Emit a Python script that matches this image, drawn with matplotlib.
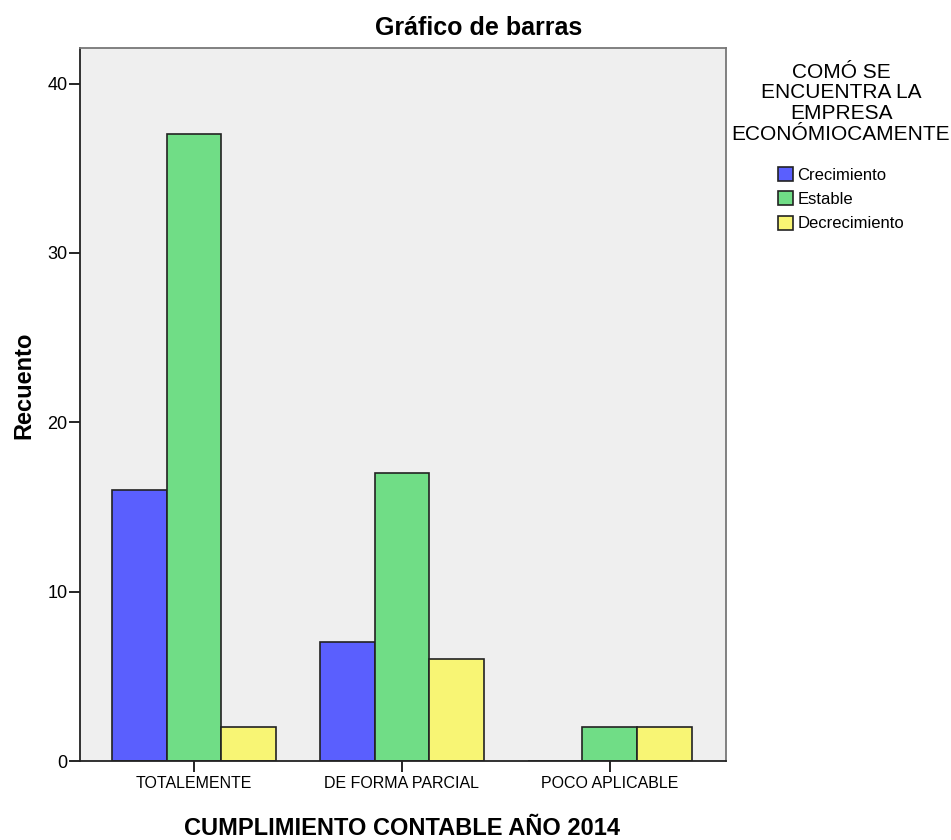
import matplotlib.pyplot as plt
import numpy as np
from matplotlib.patches import Patch

plt.rcParams['font.family'] = ['Liberation Sans', 'DejaVu Sans']

categorias = ['TOTALEMENTE', 'DE FORMA PARCIAL', 'POCO APLICABLE']
series = ['Crecimiento', 'Estable', 'Decrecimiento']
crecimiento = [16, 7, 0]
estable = [37, 17, 2]
decrecimiento = [2, 6, 2]
colores = ['#5A5FFE', '#70DD86', '#F8F574']

W, H = 951, 840
fig = plt.figure(figsize=(W / 100, H / 100), dpi=100)
ax = fig.add_axes([80 / W, 1 - 761 / H, 646 / W, 713 / H])
ax.set_facecolor('#EFEFEF')

x = np.arange(len(categorias))
ancho = 0.264
for k, (vals, col) in enumerate(zip([crecimiento, estable, decrecimiento], colores)):
    ax.bar(x + (k - 1) * ancho, vals, ancho, color=col, edgecolor='#222222',
           linewidth=1.2)

ax.set_xlim(-0.548, 2.558)
ax.set_ylim(0, 42.1)
ax.set_yticks([0, 10, 20, 30, 40])
ax.set_xticks(x)
ax.set_xticklabels(categorias, fontsize=11.5)
ax.tick_params(axis='y', labelsize=13, length=8, width=1.2, pad=1)
ax.tick_params(axis='x', length=8, width=1.2, pad=3)

for s in ['left', 'bottom']:
    ax.spines[s].set_color('#222222')
    ax.spines[s].set_linewidth(1.3)
for s in ['top', 'right']:
    ax.spines[s].set_color('#777777')
    ax.spines[s].set_linewidth(1.3)

# titulos
fig.text(479 / W, 1 - 35 / H, 'Gráfico de barras', fontsize=18, fontweight='bold',
         ha='center', va='baseline')
fig.text(402 / W, 1 - 835 / H, 'CUMPLIMIENTO CONTABLE AÑO 2014', fontsize=17,
         fontweight='bold', ha='center', va='baseline')
fig.text(24 / W, 1 - 385 / H, 'Recuento', fontsize=17, fontweight='bold',
         rotation=90, ha='center', va='center')

# leyenda
fig.text(841 / W, 1 - 63 / H, 'COMÓ SE\nENCUENTRA LA\nEMPRESA\nECONÓMIOCAMENTE',
         fontsize=15, ha='center', va='top', multialignment='center', linespacing=1.1)
handles = [Patch(facecolor=c, edgecolor='#222222', linewidth=1.2) for c in colores]
fig.legend(handles, series, loc='upper left', bbox_to_anchor=(778 / W, 1 - 167 / H),
           frameon=False, fontsize=12, handlelength=0.9, handleheight=0.9,
           handletextpad=0.25, labelspacing=0.52, borderaxespad=0, borderpad=0)

fig.savefig('out.png', dpi=100)
